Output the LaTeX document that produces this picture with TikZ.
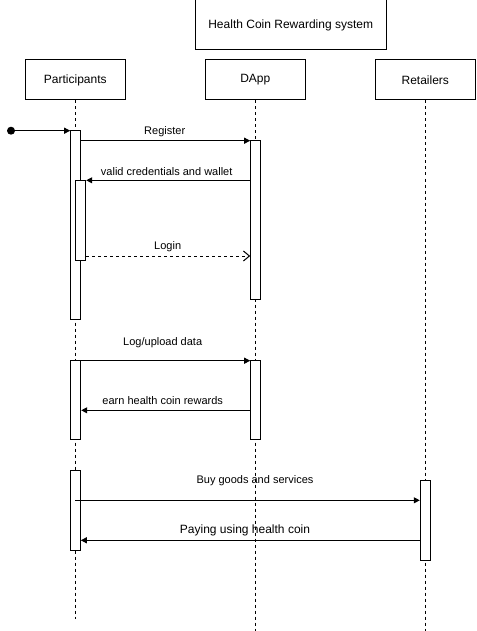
\documentclass[tikz,border=0pt]{standalone}
\usepackage{fontspec}
\setmainfont{Liberation Sans}
\usetikzlibrary{arrows.meta}
\begin{document}
\begin{tikzpicture}[x=1pt,y=-1pt,
  every node/.style={font=\fontsize{12}{14}\selectfont},
  actor/.style={draw,line width=1pt,minimum width=100pt,minimum height=40pt,inner sep=0pt,fill=white},
  act/.style={draw,line width=1pt,fill=white,minimum width=10pt,inner sep=0pt},
  life/.style={line width=1pt,dash pattern=on 3pt off 3pt},
  msg/.style={line width=1pt,-{Triangle[length=6pt,width=6pt]}},
  ret/.style={line width=1pt,dash pattern=on 3pt off 3pt,-{Straight Barb[length=6pt,width=10pt]}},
  lbl/.style={font=\fontsize{11}{13}\selectfont,inner sep=0pt}]
\useasboundingbox (0,0) rectangle (476,631);
\node[actor,minimum width=190.7pt,minimum height=50pt] (title) at (290.7,25) {Health Coin Rewarding system};
\node[actor] (P) at (75.3,80) {Participants};
\node[actor] (D) at (255.3,80) {DApp};
\node[actor] (R) at (425.3,80) {Retailers};
\coordinate (Pend) at (75.3,619);
\coordinate (Dend) at (255.3,631);
\coordinate (Rend) at (425.3,631);
\draw[life] (P.south) -- (Pend);
\draw[life] (D.south) -- (Dend);
\draw[life] (R.south) -- (Rend);
% activations
\node[act,minimum height=189.3pt] (p1) at (75.7,225.3) {};
\node[act,minimum height=80pt] (p2) at (80.7,220) {};
\node[act,minimum height=159.3pt] (d1) at (255.7,220.3) {};
\node[act,minimum height=79.3pt] (p3) at (75.7,400.3) {};
\node[act,minimum height=79.3pt] (d2) at (255.7,400.3) {};
\node[act,minimum height=79.7pt] (p4) at (75.3,510.2) {};
\node[act,minimum height=80pt] (r1) at (425.3,520) {};
% start
\node[circle,fill,inner sep=0pt,minimum size=8pt] (s) at (11,130.7) {};
\draw[msg] (s) -- (p1.west |- s);
% messages
\draw[msg] (p1.east |- 0,140.7) -- (d1.west |- 0,140.7);
\node[lbl] (l1) at (164.7,131.2) {Register};
\draw[msg] (d1.west |- 0,180.3) -- (p2.east |- 0,180.3);
\node[lbl] (l2) at (166.7,171.2) {valid credentials and wallet};
\draw[ret] (p2.east |- 0,256) -- (d1.west |- 0,256);
\node[lbl] (l3) at (167.7,246.5) {Login};
\draw[msg] (p3.east |- 0,360.7) -- (d2.west |- 0,360.7);
\node[lbl] (l4) at (162.7,342.5) {Log/upload data};
\draw[msg] (d2.west |- 0,410.3) -- (p3.east |- 0,410.3);
\node[lbl] (l5) at (162.7,401) {earn health coin rewards};
\draw[msg] (p4.center |- 0,500.3) -- (r1.west |- 0,500.3);
\node[lbl] (l6) at (255,481) {Buy goods and services};
\draw[msg] (r1.west |- 0,540.3) -- (p4.east |- 0,540.3);
\node[lbl,font=\fontsize{12}{14}\selectfont] (l7) at (245,530) {Paying using health coin};
\end{tikzpicture}
\end{document}
